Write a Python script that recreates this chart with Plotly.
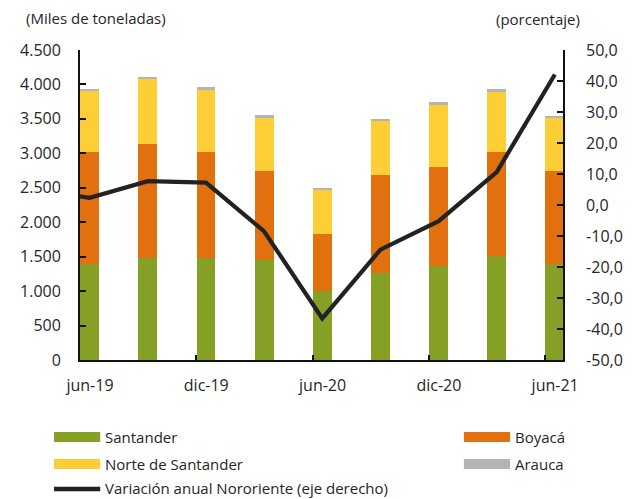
import plotly.graph_objects as go

# ---------------- data ----------------
periods = ["jun-19", "sep-19", "dic-19", "mar-20", "jun-20", "sep-20", "dic-20", "mar-21", "jun-21"]
month_index = [0, 3, 6, 9, 12, 15, 18, 21, 24]          # months since jun-19
santander = [1390, 1475, 1475, 1445, 1000, 1260, 1365, 1505, 1390]
boyaca = [1633, 1660, 1544, 1303, 829, 1425, 1436, 1518, 1353]
norte = [881, 939, 914, 774, 643, 779, 910, 881, 774]
arauca = [29, 33, 25, 29, 24, 29, 29, 25, 29]

# annual variation (right axis); includes mar-19 point that lies just left of the axis
var_months = [-3, 0, 3, 6, 9, 12, 15, 18, 21, 24]
variacion = [5.4, 2.3, 7.7, 7.2, -8.5, -36.6, -14.4, -5.2, 10.6, 42.1]

xtick_vals = [0, 6, 12, 18, 24]
xtick_text = ["jun-19", "dic-19", "jun-20", "dic-20", "jun-21"]
y2_vals = [-50, -40, -30, -20, -10, 0, 10, 20, 30, 40, 50]
y2_text = ["-50,0", "-40,0", "-30,0", "-20,0", "-10,0", "0,0", "10,0", "20,0", "30,0", "40,0", "50,0"]

names = ["Santander", "Boyacá", "Norte de Santander", "Arauca"]
colors = ["#86A026", "#E3700E", "#FDCE35", "#B4B4B4"]
line_name = "Variación anual Nororiente (eje derecho)"
line_color = "#222222"

# ---------------- figure ----------------
OFF = 8                       # default body margin of the page
W, H = 635 - OFF, 499 - OFF
PL, PT, PW, PH = 72, 50, 502, 310   # plot area in window pixels
L, T = PL - OFF, PT - OFF
R, B = W - L - PW, H - T - PH

FONT = "'Open Sans', Lato, sans-serif"
TXT = "#262626"
TICKFONT = dict(family=FONT, size=16, color=TXT)

bar_x = [m + 0.5 for m in month_index]
fig = go.Figure()
for name, vals, col in zip(names, [santander, boyaca, norte, arauca], colors):
    fig.add_trace(go.Bar(x=bar_x, y=vals, name=name, width=0.97,
                         marker=dict(color=col, line=dict(width=0)),
                         showlegend=False))

fig.add_trace(go.Scatter(x=[m + 0.5 for m in var_months], y=variacion, name=line_name,
                         mode="lines", yaxis="y2",
                         line=dict(color=line_color, width=4.2),
                         showlegend=False))


def px(xp):
    return (xp - PL) / PW


def py(yp):
    return (PT + PH - yp) / PH


shapes = []
annotations = []

# custom legend
legend_items = [
    (names[0], colors[0], 45, 437, "rect"),
    (names[1], colors[1], 471, 437, "rect"),
    (names[2], colors[2], 45, 464, "rect"),
    (names[3], colors[3], 471, 464, "rect"),
    (line_name, line_color, 45, 488, "line"),
]
for text, col, x0, yc, kind in legend_items:
    if kind == "rect":
        shapes.append(dict(type="rect", xref="paper", yref="paper",
                           x0=px(x0), x1=px(x0 + 48), y0=py(yc + 5), y1=py(yc - 5),
                           fillcolor=col, line=dict(width=0)))
    else:
        shapes.append(dict(type="line", xref="paper", yref="paper",
                           x0=px(x0), x1=px(x0 + 48), y0=py(yc + 1), y1=py(yc + 1),
                           line=dict(color=col, width=4.5)))
    annotations.append(dict(text=text, xref="paper", yref="paper",
                            x=px(x0 + 51), y=py(yc), xanchor="left", yanchor="middle",
                            showarrow=False, font=dict(family=FONT, size=15, color=TXT)))

annotations.append(dict(text="(Miles de toneladas)", xref="paper", yref="paper",
                        x=px(14), y=py(18), xanchor="left", yanchor="middle",
                        showarrow=False, font=dict(family=FONT, size=15, color=TXT)))
annotations.append(dict(text="(porcentaje)", xref="paper", yref="paper",
                        x=px(502), y=py(19), xanchor="left", yanchor="middle",
                        showarrow=False, font=dict(family=FONT, size=15, color=TXT)))

fig.update_layout(
    width=W, height=H,
    margin=dict(l=L, r=R, t=T, b=B, pad=0),
    paper_bgcolor="white", plot_bgcolor="white",
    barmode="stack",
    separators=",.",
    font=dict(family=FONT, size=15, color=TXT),
    showlegend=False,
    shapes=shapes,
    annotations=annotations,
    xaxis=dict(range=[0, 24.92], tickvals=xtick_vals, ticktext=xtick_text,
               ticks="inside", ticklen=5, tickwidth=1.5, tickcolor="#111",
               showline=True, linecolor="#111", linewidth=1.8,
               showgrid=False, zeroline=False, ticklabelshift=10, ticklabelstandoff=10,
               tickfont=TICKFONT),
    yaxis=dict(range=[0, 4500], dtick=500, tickformat=",d",
               ticks="inside", ticklen=6, tickwidth=1.5, tickcolor="#111",
               showline=True, linecolor="#111", linewidth=1.8,
               showgrid=False, zeroline=False, ticklabelstandoff=14,
               tickfont=TICKFONT),
    yaxis2=dict(range=[-50, 50], tickvals=y2_vals, ticktext=y2_text, overlaying="y",
                side="right", anchor="x",
                ticks="inside", ticklen=6, tickwidth=1.5, tickcolor="#111",
                showline=True, linecolor="#111", linewidth=1.8,
                showgrid=False, zeroline=False, ticklabelstandoff=18,
                tickfont=TICKFONT),
)

fig.write_html("out.html")
